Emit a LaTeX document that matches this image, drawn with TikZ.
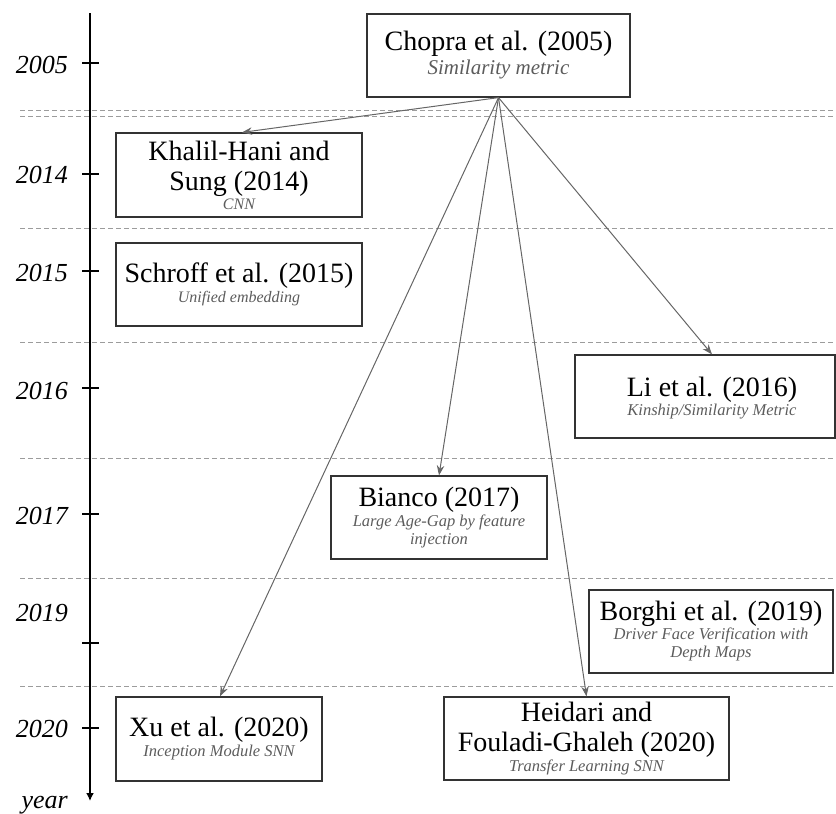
\documentclass[tikz,border=0pt]{standalone}
\usepackage{fontspec}
\setmainfont{Liberation Serif}
\usetikzlibrary{arrows.meta}
\definecolor{boxline}{HTML}{333333}
\definecolor{linkgray}{HTML}{666666}
\definecolor{subgray}{HTML}{5C5C5C}
\definecolor{gridgray}{HTML}{9C9C9C}
\newcommand\subt[1]{{\fontsize{16.5}{18}\selectfont\itshape\color{subgray}#1}}
\begin{document}
\begin{tikzpicture}[x=1pt,y=-1pt,
  paper/.style={draw=boxline, line width=1.2pt, align=center, inner sep=0pt,
    font=\fontsize{28}{30}\selectfont},
  yearlbl/.style={anchor=east, inner sep=0pt, font=\fontsize{26}{29}\selectfont\itshape},
  yeartick/.style={line width=2pt},
  band/.style={draw=gridgray, line width=0.9pt, dash pattern=on 5pt off 3pt},
  link/.style={draw=linkgray, line width=1pt, -{Stealth[length=10pt,width=7.5pt]}}]
\useasboundingbox (0,0) rectangle (836,814);

% period separators
\foreach \yy in {110,116,228,342,458,578,686}
  \draw[band] (20,\yy) -- (836,\yy);

% time axis
\coordinate (axtop) at (90,13);
\coordinate (axend) at (90,801);
\draw[line width=2.4pt, -{Latex[length=8pt,width=8pt]}] (axtop) -- (axend);
\foreach \ty in {63,174,271,388,514,643,728}
  \draw[yeartick] (82,\ty) -- (99,\ty);

\node[yearlbl] (y2005) at (68,64.5) {2005};
\node[yearlbl] (y2014) at (68,175) {2014};
\node[yearlbl] (y2015) at (68,273) {2015};
\node[yearlbl] (y2016) at (68,391) {2016};
\node[yearlbl] (y2017) at (68,516) {2017};
\node[yearlbl] (y2019) at (68,613) {2019};
\node[yearlbl] (y2020) at (68,729) {2020};
\node[yearlbl, anchor=base east] (yr) at (68,808) {year};

% papers
\node[paper, minimum width=263pt, minimum height=83pt] (chopra) at (498.5,55.5)
  {Chopra et al. (2005)\\[-6pt]{\fontsize{21}{22}\selectfont\itshape\color{subgray}Similarity metric}};
\node[paper, minimum width=246pt, minimum height=84pt] (khalil) at (239,175)
  {Khalil-Hani and\\Sung (2014)\\[-11pt]{\fontsize{16}{18}\selectfont\itshape\color{subgray}CNN}};
\node[paper, minimum width=246pt, minimum height=83pt] (schroff) at (239,284.5)
  {Schroff et al. (2015)\\[-10pt]{\fontsize{16}{18}\selectfont\itshape\color{subgray}Unified embedding}};
\node[draw=boxline, line width=1.2pt, minimum width=260pt, minimum height=83pt, inner sep=0pt] (li) at (705,396.5) {};
\node[align=center, inner sep=0pt, font=\fontsize{28}{30}\selectfont] (litext) at (712,398)
  {Li et al. (2016)\\[-11pt]\subt{Kinship/Similarity Metric}};
\node[paper, minimum width=216pt, minimum height=83pt] (bianco) at (439,517.5)
  {Bianco (2017)\\[-10pt]\subt{Large Age-Gap by feature}\\[-12pt]\subt{injection}};
\node[paper, minimum width=244pt, minimum height=83pt] (borghi) at (711,631.5)
  {Borghi et al. (2019)\\[-11pt]\subt{Driver Face Verification with}\\[-12pt]\subt{Depth Maps}};
\node[paper, minimum width=206pt, minimum height=84pt] (xu) at (219,739)
  {Xu et al. (2020)\\[-10pt]\subt{Inception Module SNN}};
\node[paper, minimum width=285pt, minimum height=83pt] (heidari) at (586.5,738.5)
  {Heidari and\\Fouladi-Ghaleh (2020)\\[-10pt]\subt{Transfer Learning SNN}};

% citations from the first work
\draw[link] (chopra.south) -- ([xshift=3pt]khalil.north);
\draw[link] (chopra.south) -- ([xshift=1pt]xu.north);
\draw[link] (chopra.south) -- (bianco.north);
\draw[link] (chopra.south) -- (heidari.north);
\draw[link] (chopra.south) -- (li.north -| litext.north);
\end{tikzpicture}
\end{document}
